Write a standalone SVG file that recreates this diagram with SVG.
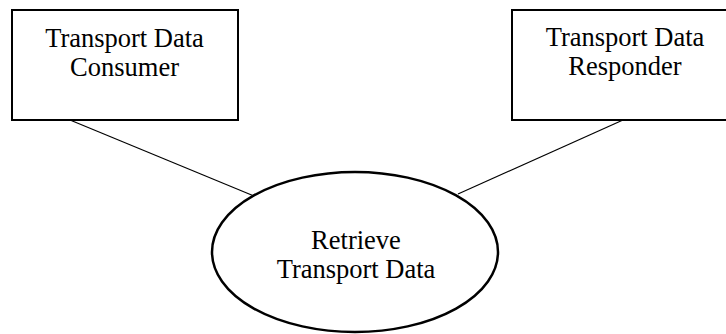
<svg xmlns="http://www.w3.org/2000/svg" width="726" height="334" viewBox="0 0 726 334">
<style>
.box{fill:#fff;stroke:#000;stroke-width:2}
.ell{fill:#fff;stroke:#000;stroke-width:2.5}
.conn{stroke:#000;stroke-width:1.2;fill:none}
text{font-family:"Liberation Serif","Times New Roman",serif;font-size:26.5px;fill:#000;text-anchor:middle}
</style>
<rect width="726" height="334" fill="#fff"/>
<g id="connectors">
<line class="conn" x1="70" y1="120" x2="254" y2="196"/>
<line class="conn" x1="623" y1="120" x2="458" y2="194"/>
</g>
<g id="consumer">
<rect class="box" x="12" y="10" width="226" height="110"/>
<text x="124.5" y="46.5">Transport Data</text>
<text x="124.5" y="75.5">Consumer</text>
</g>
<g id="responder">
<rect class="box" x="512" y="10" width="226" height="110"/>
<text x="625" y="46">Transport Data</text>
<text x="625" y="75">Responder</text>
</g>
<g id="retrieve">
<ellipse class="ell" cx="355" cy="252" rx="143" ry="80"/>
<text x="356" y="248.5">Retrieve</text>
<text x="356" y="277.5">Transport Data</text>
</g>
</svg>
